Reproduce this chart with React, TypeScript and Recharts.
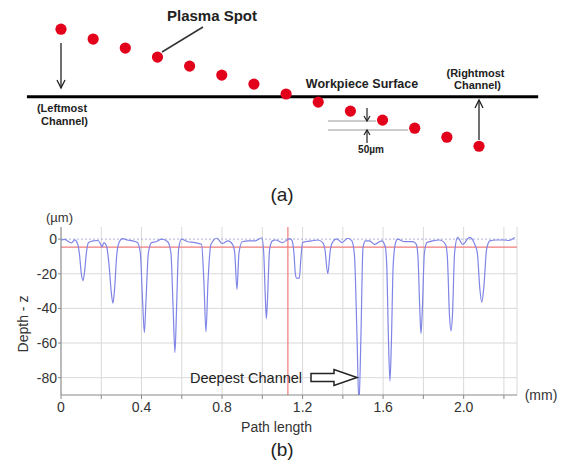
import React from 'react'
import {
  ScatterChart,
  Scatter,
  LineChart,
  Line,
  XAxis,
  YAxis,
  CartesianGrid,
  ReferenceLine,
} from 'recharts'

// (a) schematic: plasma spot per channel, height relative to the workpiece surface (µm)
const spotChannel = [1, 2, 3, 4, 5, 6, 7, 8, 9, 10, 11, 12, 13, 14]
const spotHeight = [375, 320, 270, 220, 170, 120, 70, 15, -30, -80, -130, -175, -225, -275]

// (b) measured surface profile: path length (mm) vs depth z (µm)
const pathLength = [
  0, 0.018, 0.035, 0.052, 0.068, 0.082, 0.092, 0.101, 0.109, 0.117, 0.126, 0.137,
  0.16, 0.184, 0.197, 0.204, 0.213, 0.226, 0.238, 0.25, 0.258, 0.266, 0.277, 0.29,
  0.305, 0.33, 0.355, 0.38, 0.394, 0.405, 0.414, 0.422, 0.434, 0.45, 0.472, 0.5,
  0.53, 0.546, 0.557, 0.566, 0.574, 0.584, 0.598, 0.63, 0.665, 0.698, 0.71, 0.72,
  0.73, 0.745, 0.775, 0.8, 0.83, 0.852, 0.863, 0.874, 0.884, 0.9, 0.93, 0.965,
  0.998, 1.007, 1.015, 1.02, 1.026, 1.036, 1.05, 1.065, 1.1, 1.137, 1.148, 1.157,
  1.164, 1.17, 1.184, 1.191, 1.2, 1.215, 1.245, 1.275, 1.3, 1.311, 1.325, 1.338,
  1.35, 1.37, 1.395, 1.425, 1.445, 1.458, 1.47, 1.48, 1.49, 1.5, 1.512, 1.533,
  1.558, 1.593, 1.61, 1.618, 1.627, 1.634, 1.641, 1.65, 1.662, 1.672, 1.707, 1.747,
  1.765, 1.773, 1.782, 1.788, 1.795, 1.805, 1.818, 1.846, 1.88, 1.91, 1.919, 1.93,
  1.937, 1.944, 1.955, 1.97, 1.995, 2.03, 2.055, 2.068, 2.08, 2.09, 2.1, 2.114,
  2.13, 2.16, 2.2, 2.225, 2.253,
]
const depth = [
  -0.5, -0.2, -1.2, -2.2, -0.4, -2.5, -9, -20, -24, -19, -8, -2,
  -1, -0.8, -3, -4.5, -2, -4, -14, -31, -37, -29, -9, -1.5,
  0.3, -0.5, -1, -2, -8, -35, -54, -36, -8, -2, -1.5, 0,
  -1.5, -8, -40, -65.5, -40, -6, 0, -1.5, -2, -3, -25, -53.5,
  -25, -3, 0.5, -2.5, -1, -3, -8, -29, -8, -1.5, -1, -1,
  0.8, -8, -34, -46, -34, -6, -1, -0.5, -2, 0.3, -1, -8,
  -20, -22.5, -22.5, -12, -2, -1.5, -1, -0.5, -2, -6, -20, -6,
  -1.5, 0.2, -2, 0.5, -1, -10, -55, -95, -55, -5, -1, -1,
  -3, -1, -4, -15, -60, -82, -60, -15, -2, 0, -1.5, -1.5,
  -3, -10, -40, -54.5, -40, -8, -2, -1, -0.5, -3, -10, -45,
  -53, -45, -8, 1, -3, 1, -3, -8, -28, -36.5, -28, -6,
  -1, -0.5, -0.5, -0.8, 1,
]

const xTicks = [0, 0.2, 0.4, 0.6, 0.8, 1.0, 1.2, 1.4, 1.6, 1.8, 2.0, 2.2]
const xTickLabels = ['0', '', '0.4', '', '0.8', '', '1.2', '', '1.6', '', '2.0', '']
const yTicks = [0, -20, -40, -60, -80]
const yGridLines = [-20, -40, -60, -80]
const referenceDepth = -4.6
const referencePath = 1.127

const spots = spotChannel.map((channel, i) => ({ channel, height: spotHeight[i] }))
const profile = pathLength.map((x, i) => ({ x, z: depth[i] }))

const FONT = '"Liberation Sans", Arial, Helvetica, sans-serif'
const TEXT = '#222'

function formatPath(v: number) {
  const i = xTicks.findIndex((t) => Math.abs(t - v) < 1e-6)
  return i >= 0 ? xTickLabels[i] : ''
}

function Annotations() {
  return (
    <svg
      width={563}
      height={464}
      style={{ position: 'absolute', left: 0, top: 0, pointerEvents: 'none' }}
      fontFamily={FONT}
    >
      {/* (a) */}
      <text x={212} y={21} textAnchor="middle" fontSize={15} fontWeight="bold" fill={TEXT}>
        Plasma Spot
      </text>
      <line x1={203} y1={27} x2={162} y2={52} stroke="#333" strokeWidth={1.5} />

      <line x1={61} y1={43} x2={61} y2={88} stroke={TEXT} strokeWidth={1.3} />
      <polyline points="57,80 61,88 65,80" fill="none" stroke={TEXT} strokeWidth={1.3} />
      <text x={62} y={111.5} textAnchor="middle" fontSize={11} fontWeight="bold" fill={TEXT}>
        (Leftmost
      </text>
      <text x={64.5} y={124.5} textAnchor="middle" fontSize={11} fontWeight="bold" fill={TEXT}>
        Channel)
      </text>

      <text x={362} y={88} textAnchor="middle" fontSize={12.5} fontWeight="bold" fill={TEXT}>
        Workpiece Surface
      </text>
      <text x={475.5} y={77} textAnchor="middle" fontSize={11} fontWeight="bold" fill={TEXT}>
        (Rightmost
      </text>
      <text x={477.5} y={89} textAnchor="middle" fontSize={11} fontWeight="bold" fill={TEXT}>
        Channel)
      </text>
      <line x1={479} y1={140} x2={479} y2={100} stroke={TEXT} strokeWidth={1.3} />
      <polyline points="475,108 479,100 483,108" fill="none" stroke={TEXT} strokeWidth={1.3} />

      <line x1={328} y1={121} x2={376} y2={121} stroke="#999" strokeWidth={1.2} />
      <line x1={328} y1={130} x2={408} y2={130} stroke="#999" strokeWidth={1.2} />
      <line x1={367} y1={108} x2={367} y2={121} stroke={TEXT} strokeWidth={1.2} />
      <polyline points="364,116 367,121 370,116" fill="none" stroke={TEXT} strokeWidth={1.2} />
      <line x1={367} y1={143} x2={367} y2={130} stroke={TEXT} strokeWidth={1.2} />
      <polyline points="364,135 367,130 370,135" fill="none" stroke={TEXT} strokeWidth={1.2} />
      <text x={371} y={153} textAnchor="middle" fontSize={10} fontWeight="bold" fill={TEXT}>
        50µm
      </text>

      <text x={282} y={201} textAnchor="middle" fontSize={19} fill={TEXT}>
        (a)
      </text>

      {/* (b) */}
      <text x={59.5} y={222} textAnchor="middle" fontSize={13} fill="#333">
        (µm)
      </text>
      <text
        x={27.5}
        y={324}
        textAnchor="middle"
        fontSize={14}
        fill="#333"
        transform="rotate(-90, 27.5, 324)"
      >
        Depth - z
      </text>
      <text x={276.5} y={432} textAnchor="middle" fontSize={14} fill="#333">
        Path length
      </text>
      <text x={541} y={400} textAnchor="middle" fontSize={14} fill="#333">
        (mm)
      </text>
      <text x={190} y={383} fontSize={14.5} fill={TEXT}>
        Deepest Channel
      </text>
      <polygon
        points="311,373.5 334,373.5 334,369.5 357,377.5 334,385.5 334,381.5 311,381.5"
        fill="#fff"
        stroke={TEXT}
        strokeWidth={1.5}
      />
      <text x={282} y={456} textAnchor="middle" fontSize={19} fill={TEXT}>
        (b)
      </text>
    </svg>
  )
}

export default function App() {
  return (
    <div
      style={{
        position: 'absolute',
        left: 0,
        top: 0,
        width: 563,
        height: 464,
        background: '#fff',
        fontFamily: FONT,
        overflow: 'hidden',
      }}
    >
      <div style={{ position: 'absolute', left: 0, top: 0 }}>
        <ScatterChart width={563} height={170} margin={{ top: 0, right: 0, bottom: 0, left: 0 }}>
          <XAxis type="number" dataKey="channel" domain={[-0.897, 16.612]} hide />
          <YAxis type="number" dataKey="height" domain={[-407, 537]} hide />
          <ReferenceLine
            segment={[
              { x: -0.06, y: 0 },
              { x: 15.84, y: 0 },
            ]}
            stroke="#000"
            strokeWidth={3}
          />
          <Scatter
            data={spots}
            isAnimationActive={false}
            shape={(p: any) => <circle cx={p.cx} cy={p.cy} r={5.6} fill="#e2001a" />}
          />
        </ScatterChart>
      </div>

      <div style={{ position: 'absolute', left: 0, top: 200 }}>
        <LineChart
          width={563}
          height={264}
          data={profile}
          margin={{ top: 27, right: 46, bottom: 0, left: 0 }}
        >
          <CartesianGrid stroke="#d9d9d9" horizontalValues={yGridLines} />
          <XAxis
            type="number"
            dataKey="x"
            domain={[0, 2.265]}
            ticks={xTicks}
            interval={0}
            tickFormatter={formatPath}
            height={69}
            tickSize={4}
            tickMargin={3}
            stroke="#888"
            tick={{ fill: '#333', fontSize: 14 }}
            allowDataOverflow
          />
          <YAxis
            type="number"
            domain={[-90, 7]}
            ticks={yTicks}
            width={61}
            tickSize={3}
            tickMargin={1}
            stroke="#888"
            tick={{ fill: '#333', fontSize: 14 }}
            allowDataOverflow
          />
          <ReferenceLine y={0} stroke="#aeb0dc" strokeDasharray="2 2" />
          <ReferenceLine y={referenceDepth} stroke="#f07a7a" strokeWidth={1.3} />
          <ReferenceLine x={referencePath} stroke="#f07a7a" strokeWidth={1.2} />
          <Line
            type="monotone"
            dataKey="z"
            stroke="#7f84e6"
            strokeWidth={1.2}
            dot={false}
            isAnimationActive={false}
          />
        </LineChart>
      </div>

      <Annotations />
    </div>
  )
}
